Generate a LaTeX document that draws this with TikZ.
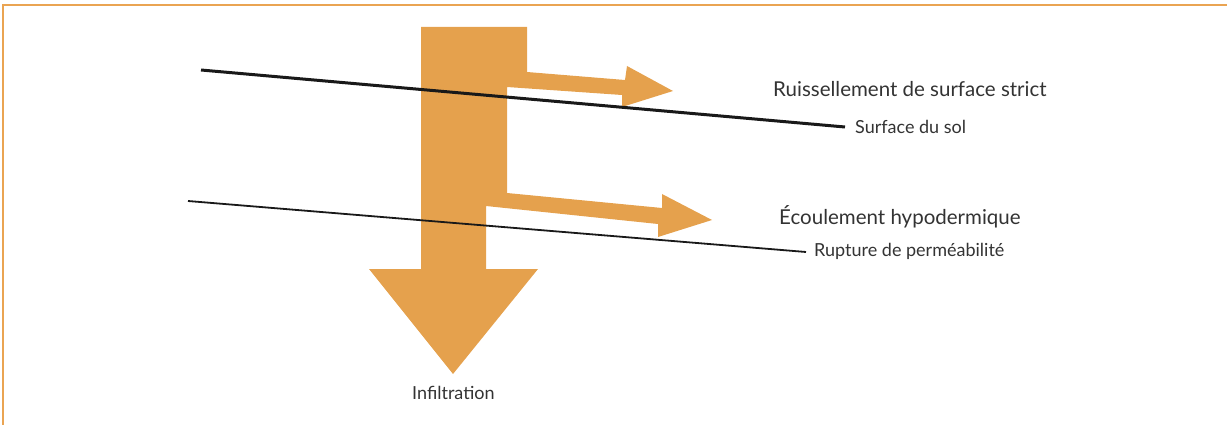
\documentclass[tikz,border=0pt]{standalone}
\usepackage{fontspec}
\setmainfont{Lato}
\definecolor{flow}{HTML}{E5A14D}
\definecolor{frame}{HTML}{EAA452}
\definecolor{txt}{HTML}{333333}
\begin{document}
\begin{tikzpicture}[x=1pt,y=-1pt,
  flowshape/.style={fill=flow,draw=none},
  ground/.style={draw=black!90,line cap=butt},
  biglabel/.style={anchor=base west,inner sep=0pt,text=txt,font=\fontsize{20.5}{24}\selectfont},
  smalllabel/.style={anchor=base west,inner sep=0pt,text=txt,font=\fontsize{18}{21}\selectfont}]
\useasboundingbox (0,0) rectangle (1227,425);
% frame
\draw[frame,line width=1.5pt] (3,425) -- (3,5) -- (1227,5);
% flow shape
\fill[flowshape] (421,27) -- (527,27) -- (527,72) -- (625,80) -- (627,66) -- (673,91)
  -- (622,107) -- (622,95) -- (507,87) -- (507,193) -- (662,208) -- (662,194)
  -- (712,220) -- (658,237) -- (658,224) -- (486,206) -- (486,269) -- (538,269)
  -- (453,374) -- (369,269) -- (421,269) -- cycle;
% ground lines
\coordinate (s1) at (201,70);
\coordinate (s2) at (845,127);
\coordinate (r1) at (188,201);
\coordinate (r2) at (806,252);
\draw[ground,line width=3pt] (s1) -- (s2);
\draw[ground,line width=1.8pt] (r1) -- (r2);
% labels
\node[biglabel] (ruis) at (773,97) {Ruissellement de surface strict};
\node[smalllabel] (sol) at (855,134) {Surface du sol};
\node[biglabel] (ecou) at (779,225) {Écoulement hypodermique};
\node[smalllabel] (rupt) at (814,256) {Rupture de perméabilité};
\node[smalllabel] (infil) at (412,399) {Infiltration};
\end{tikzpicture}
\end{document}
